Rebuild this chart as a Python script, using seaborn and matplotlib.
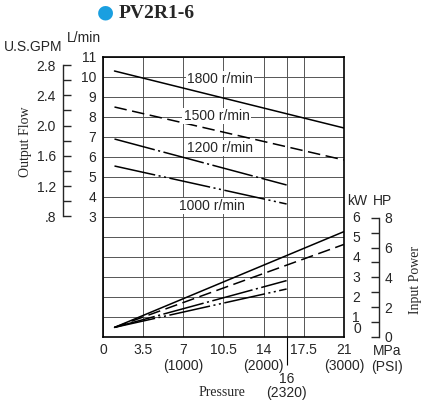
# plot.py

# Import required libraries
import seaborn as sns
import matplotlib.pyplot as plt
import pandas as pd

# Curves (pressure in MPa)
speeds = ["1800 r/min", "1500 r/min", "1200 r/min", "1000 r/min"]
pressure_1800 = [1, 21]
pressure_1500 = [1, 21]
pressure_1200 = [1, 16]
pressure_1000 = [1, 16]
flow_1800 = [10.3, 7.45]   # L/min
flow_1500 = [8.5, 5.85]
flow_1200 = [6.9, 4.6]
flow_1000 = [5.55, 3.65]
power_1800 = [0.48, 5.27]  # kW
power_1500 = [0.48, 4.63]
power_1200 = [0.48, 2.82]
power_1000 = [0.48, 2.4]

# Axis ticks and labels
mpa_ticks = [0, 3.5, 7, 10.5, 14, 17.5, 21]
mpa_labels = ["0", "3.5", "7\n(1000)", "10.5", "14\n(2000)", "17.5", "21\n(3000)"]
lmin_ticks = list(range(3, 12))
kw_ticks = [1, 2, 3, 4, 5, 6]
gpm_ticks = [0.8, 1.2, 1.6, 2.0, 2.4, 2.8]
gpm_labels = [".8", "1.2", "1.6", "2.0", "2.4", "2.8"]
gpm_minor = [1.0, 1.4, 1.8, 2.2, 2.6]
hp_ticks = [0, 2, 4, 6, 8]
hp_minor = [1, 3, 5, 7]

# Long table for seaborn
rows = []
for name, p, f, w in zip(
    speeds,
    [pressure_1800, pressure_1500, pressure_1200, pressure_1000],
    [flow_1800, flow_1500, flow_1200, flow_1000],
    [power_1800, power_1500, power_1200, power_1000],
):
    for pi, fi, wi in zip(p, f, w):
        rows.append({"speed": name, "pressure": pi, "flow": fi, "power": wi})
df = pd.DataFrame(rows)

sns.set_style("ticks")
plt.rcParams["font.family"] = ["Liberation Sans", "DejaVu Sans"]
plt.rcParams["lines.scale_dashes"] = False

dashes = {
    "1800 r/min": "",
    "1500 r/min": (9, 4),
    "1200 r/min": (30, 2.5, 1.5, 2.5),
    "1000 r/min": (30, 2.5, 1.5, 2.5, 1.5, 2.5),
}

fig = plt.figure(figsize=(4.25, 4.04), dpi=100)
ax = fig.add_axes([103 / 425, 1 - 337 / 404, 241 / 425, 280 / 404])

# Flow curves (L/min) on the main axis
sns.lineplot(data=df, x="pressure", y="flow", style="speed", dashes=dashes,
             color="black", lw=1.1, legend=False, ax=ax)
ax.set_xlim(0, 21)
ax.set_ylim(-3, 11)
ax.set_xlabel("")
ax.set_ylabel("")

ax.set_xticks(mpa_ticks, labels=mpa_labels)
ax.set_xticks([16], labels=["16\n(2320)"], minor=True)
ax.set_yticks(lmin_ticks)
ax.set_yticks(range(-3, 12), minor=True)
ax.tick_params(axis="both", which="both", labelsize=10, color="black")
ax.tick_params(axis="x", which="major", length=0, pad=4)
ax.tick_params(axis="x", which="minor", length=20, width=0.8, pad=5)
ax.tick_params(axis="y", which="both", length=0, pad=5)
for t in ax.get_xticklabels(minor=True):
    t.set_linespacing(1.05)
ax.grid(True, which="both", color="#555555", lw=0.7)
for s in ax.spines.values():
    s.set_visible(True)
    s.set_linewidth(1.2)
    s.set_color("black")

# Speed labels
label_pos = {"1800 r/min": (10.2, 9.9), "1500 r/min": (9.9, 8.05),
             "1200 r/min": (10.2, 6.45), "1000 r/min": (9.5, 3.55)}
for name, (x, y) in label_pos.items():
    ax.text(x, y, name, ha="center", va="center", fontsize=10, zorder=5,
            bbox=dict(facecolor="white", edgecolor="none", pad=1))

# Power curves (kW) on a twin axis
ax_p = ax.twinx()
sns.lineplot(data=df, x="pressure", y="power", style="speed", dashes=dashes,
             color="black", lw=1.1, legend=False, ax=ax_p)
ax_p.set_ylim(0, 14)
ax_p.set_ylabel("")
ax_p.set_yticks(kw_ticks)
ax_p.tick_params(axis="y", length=0, pad=6, labelsize=10)
for s in ax_p.spines.values():
    s.set_visible(False)

# U.S. GPM axis on the left
gpm = ax.secondary_yaxis(-0.166, functions=(lambda l: l / 3.785, lambda g: g * 3.785))
gpm.set_yticks(gpm_ticks, labels=gpm_labels)
gpm.set_yticks(gpm_minor, minor=True)
gpm.tick_params(which="both", direction="in", length=6, width=1, pad=5, labelsize=10)
gpm.spines["left"].set_bounds(0.8, 2.8)
gpm.spines["left"].set_linewidth(1)

# HP axis on the right
hp = ax_p.secondary_yaxis(1.145, functions=(lambda k: k / 0.7457, lambda h: h * 0.7457))
hp.set_yticks(hp_ticks)
hp.set_yticks(hp_minor, minor=True)
hp.tick_params(which="both", direction="in", length=6, width=1, pad=4, labelsize=10)
hp.spines["right"].set_bounds(0, 8)
hp.spines["right"].set_linewidth(1)

# Headers and titles
def fx(px):
    return px / 425

def fy(py):
    return 1 - py / 404

fig.text(fx(105), fy(12), "\u25CF", color="#1a9fe0", fontsize=14,
         ha="center", va="center", family="DejaVu Sans")
fig.text(fx(119), fy(13), "PV2R1-6", fontsize=14, fontweight="bold",
         family="Liberation Serif", ha="left", va="center")
fig.text(fx(33), fy(47), "U.S.GPM", fontsize=10, ha="center", va="center")
fig.text(fx(84), fy(38), "L/min", fontsize=10, ha="center", va="center")
fig.text(fx(357), fy(201), "kW", fontsize=10, ha="center", va="center")
fig.text(fx(383), fy(201), "HP", fontsize=10, ha="center", va="center")
fig.text(fx(357), fy(329), "0", fontsize=10, ha="center", va="center")
fig.text(fx(387), fy(344), "MPa\n(PSI)", fontsize=10, ha="center", va="top")
fig.text(fx(25), fy(142), "Output Flow", fontsize=10, rotation=90,
         family="Liberation Serif", ha="center", va="center")
fig.text(fx(415), fy(280), "Input Power", fontsize=10, rotation=90,
         family="Liberation Serif", ha="center", va="center")
fig.text(fx(222), fy(392), "Pressure", fontsize=10,
         family="Liberation Serif", ha="center", va="center")

fig.savefig("out.png", dpi=100)
